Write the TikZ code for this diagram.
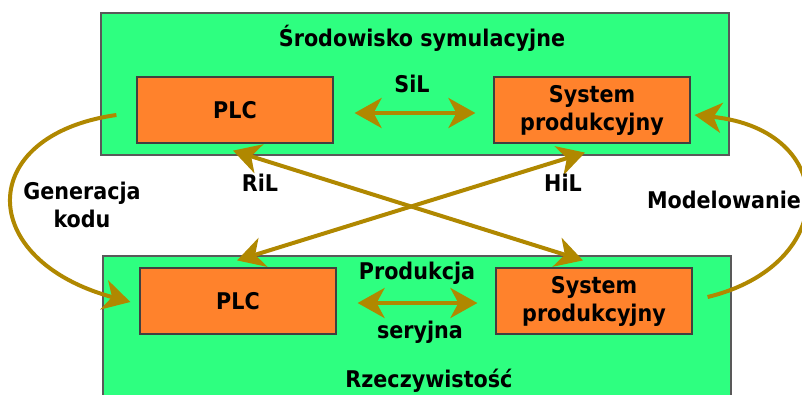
\documentclass[tikz,border=0pt]{standalone}
\usepackage{fontspec}
\setmainfont{DejaVu Sans}
\newfontfamily\diagfont{DejaVu Sans Condensed Bold}
\usetikzlibrary{arrows.meta}
\definecolor{envgreen}{RGB}{46,255,128}
\definecolor{blockorange}{RGB}{255,130,44}
\definecolor{linkgold}{RGB}{176,136,0}
\begin{document}
\begin{tikzpicture}[x=1pt,y=-1pt,
    every node/.style={font=\diagfont\fontsize{23}{28}\selectfont, align=center, inner sep=0pt},
    envbox/.style={draw=black!65, line width=1.3pt, fill=envgreen, minimum width=628pt, minimum height=142pt},
    block/.style={draw=black!75, line width=1.2pt, fill=blockorange, minimum width=196pt, minimum height=66pt},
    link/.style={draw=linkgold, line width=4pt, -{Stealth[length=27pt,width=30pt,inset=8pt]}},
    biglink/.style={link, {Stealth[length=27pt,width=30pt,inset=8pt]}-{Stealth[length=27pt,width=30pt,inset=8pt]}}]
    \useasboundingbox (0,0) rectangle (802,394);
    \node[envbox] (sim) at (415,84) {};
    \node[envbox, minimum height=150pt] (real) at (417,331) {};
    \node[block] (plcS) at (235,110) {PLC};
    \node[block] (sysS) at (592,110) {System\\produkcyjny};
    \node[block] (plcR) at (238,301) {PLC};
    \node[block] (sysR) at (594,301) {System\\produkcyjny};
    \draw[biglink] ([shift={(21,3)}]plcS.east) -- ([shift={(-18,3)}]sysS.west);
    \draw[biglink] ([shift={(21,2)}]plcR.east) -- ([shift={(-18,2)}]sysR.west);
    \draw[biglink] ([shift={(-2,7)}]plcS.south) -- ([shift={(-11,-7)}]sysR.north);
    \draw[biglink] ([shift={(-1,-7)}]plcR.north) -- ([shift={(-7,9)}]sysS.south);
    \draw[link] ([shift={(-20,5)}]plcS.west) .. controls (-25,135) and (-25,260) .. ([shift={(-9,1)}]plcR.west);
    \draw[link] ([shift={(15,-4)}]sysR.east) .. controls (840,265) and (840,130) .. ([shift={(4,5)}]sysS.east);
    \node (simTitle) at (422,38) {Środowisko symulacyjne};
    \node (sil) at (412,84) {SiL};
    \node (ril) at (260,183) {RiL};
    \node (hil) at (563,183) {HiL};
    \node (gen) at (82,205) {Generacja\\kodu};
    \node (model) at (724,200) {Modelowanie};
    \node (prod) at (417,273) {Produkcja};
    \node (ser) at (420,332) {seryjna};
    \node (realTitle) at (429,381) {Rzeczywistość};
\end{tikzpicture}
\end{document}
